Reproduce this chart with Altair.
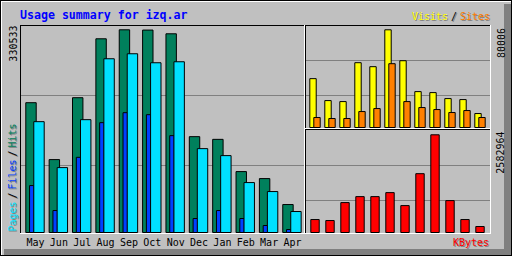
import altair as alt
import pandas as pd

# ---- data ----
months = ["May", "Jun", "Jul", "Aug", "Sep", "Oct", "Nov", "Dec", "Jan", "Feb", "Mar", "Apr"]
hits = [211670, 118865, 219812, 315879, 330533, 330100, 324020, 156310, 151900, 99320, 87925, 45590]
pages = [180734, 105835, 183990, 283314, 291455, 276800, 278430, 136770, 125374, 81412, 66758, 34193]
files = [76527, 35822, 122600, 179107, 195389, 192133, 157938, 22795, 35822, 22795, 11398, 4885]
visits = [40003, 22042, 21226, 53065, 49800, 80006, 54698, 29390, 28574, 23675, 22859, 11430]
sites = [8164, 7347, 7347, 13062, 15511, 52249, 21226, 16328, 14695, 12246, 13879, 8164]
kbytes = [342638, 316281, 790703, 948843, 948843, 1054271, 711633, 1555050, 2582964, 843417, 342638, 158141]

title_text = "Usage summary for izq.ar"
max_hits_label = "330533"
max_visits_label = "80006"
max_kbytes_label = "2582964"

df = pd.DataFrame({
    "month": months, "i": list(range(len(months))),
    "hits": hits, "pages": pages, "files": files,
    "visits": visits, "sites": sites, "kbytes": kbytes,
})

FONT = "DejaVu Sans Mono"
GREY = "#C0C0C0"
DKGREY = "#808080"
C_HITS, C_FILES, C_PAGES = "#00805C", "#0040FF", "#00E0FF"
C_VISITS, C_SITES, C_KB = "#FFFF00", "#FF8000", "#FF0000"

# scales (pixel ranges on the 512x256 canvas)
LX = alt.Scale(domain=[0, 12.2], range=[20, 305], nice=False, zero=False)
LY = alt.Scale(domain=[0, max(hits) * 207.5 / 202.7], range=[232.5, 25], nice=False)
RX = alt.Scale(domain=[0, 12.4], range=[305, 491], nice=False, zero=False)
RTY = alt.Scale(domain=[0, max(visits) * 102.5 / 97.7], range=[127.5, 25], nice=False)
RBY = alt.Scale(domain=[0, max(kbytes) * 102.5 / 97.7], range=[232.5, 130], nice=False)

one = alt.Data(values=[{}])


def box(x1, x2, y1, y2, color):
    return alt.Chart(one).mark_rect(color=color).encode(
        x=alt.value(x1), x2=alt.value(x2), y=alt.value(y1), y2=alt.value(y2))


def txt(s, x, y, color, size=10, angle=0, align="left", bold=False):
    return alt.Chart(one).mark_text(
        text=s, font=FONT, fontSize=size, color=color, align=align,
        baseline="alphabetic", angle=angle,
        fontWeight="bold" if bold else "normal",
    ).encode(x=alt.value(x), y=alt.value(y))


def shadow_txt(s, x, y, color, angle=0, align="left"):
    return [txt(s, x + 1, y + 1, DKGREY, angle=angle, align=align),
            txt(s, x, y, color, angle=angle, align=align)]


def bars(field, color, a, b, xs, ys):
    return alt.Chart(df).transform_calculate(
        x0=f"datum.i + {a}", x1=f"datum.i + {b}", base="0"
    ).mark_rect(color=color, stroke="black", strokeWidth=1).encode(
        x=alt.X("x0:Q", scale=xs, axis=None),
        x2="x1:Q",
        y=alt.Y(f"{field}:Q", scale=ys, axis=None),
        y2="base:Q",
    )


layers = []
# outer frame
layers += [
    box(0, 512, 0, 1, "black"), box(0, 1, 0, 256, "black"),
    box(511, 512, 0, 256, "black"), box(0, 512, 255, 256, "black"),
    box(1, 511, 1, 2, "white"), box(1, 2, 1, 255, "white"),
    box(504, 511, 4, 255, DKGREY), box(4, 511, 249, 255, DKGREY),
]
# gridlines
layers += [
    box(21, 304, 95, 96, DKGREY), box(21, 304, 165, 166, DKGREY),
    box(306, 490, 60, 61, DKGREY), box(306, 490, 95, 96, DKGREY),
    box(306, 490, 165, 166, DKGREY), box(306, 490, 200, 201, DKGREY),
]
# bars
layers += [
    bars("hits", C_HITS, 0.248, 0.694, LX, LY),
    bars("files", C_FILES, 0.41, 0.60, LX, LY),
    bars("pages", C_PAGES, 0.59, 1.036, LX, LY),
    bars("visits", C_VISITS, 0.32, 0.747, RX, RTY),
    bars("sites", C_SITES, 0.587, 1.013, RX, RTY),
    bars("kbytes", C_KB, 0.387, 0.947, RX, RBY),
]
# panel borders
layers += [
    box(20, 305, 25, 26, "black"), box(20, 21, 25, 234, "black"),
    box(304, 305, 25, 234, "white"), box(20, 305, 233, 234, "white"),
    box(305, 491, 25, 26, "black"), box(305, 306, 25, 129, "black"),
    box(490, 491, 25, 129, "white"), box(305, 491, 128, 129, "white"),
    box(305, 491, 129, 130, "black"), box(305, 306, 129, 234, "black"),
    box(490, 491, 129, 234, "white"), box(305, 491, 233, 234, "white"),
]
# month labels
layers.append(
    alt.Chart(df).transform_calculate(xm="datum.i + 0.664").mark_text(
        font=FONT, fontSize=10, color="black", align="center", baseline="alphabetic"
    ).encode(x=alt.X("xm:Q", scale=LX, axis=None), y=alt.value(245.5), text="month:N")
)
# title and labels
layers.append(txt(title_text, 20, 19, "#0000FF", size=11.6, bold=True))
layers.append(txt(max_hits_label, 16.5, 25.5, "black", angle=270, align="right"))
layers.append(txt(max_visits_label, 504.5, 28, "black", angle=270, align="right"))
layers.append(txt(max_kbytes_label, 504, 131.5, "black", angle=270, align="right"))
layers += shadow_txt("Visits", 412, 19.5, C_VISITS)
layers += shadow_txt("/", 451, 19.5, "black")
layers += shadow_txt("Sites", 460, 19.5, C_SITES)
layers += shadow_txt("KBytes", 489, 245.5, C_KB, align="right")
layers += shadow_txt("Pages", 16, 231.5, C_PAGES, angle=270)
layers += shadow_txt("/", 16, 198.5, "black", angle=270)
layers += shadow_txt("Files", 16, 189.5, C_FILES, angle=270)
layers += shadow_txt("/", 16, 156.5, "black", angle=270)
layers += shadow_txt("Hits", 16, 147.5, C_HITS, angle=270)

chart = alt.layer(*layers).resolve_scale(
    x="independent", y="independent"
).properties(
    width=512, height=256,
    autosize=alt.AutoSizeParams(type="none"),
    padding=0,
    background=GREY,
).configure_view(strokeWidth=0)

chart.save("out.html", embed_options={"renderer": "svg", "actions": False})
